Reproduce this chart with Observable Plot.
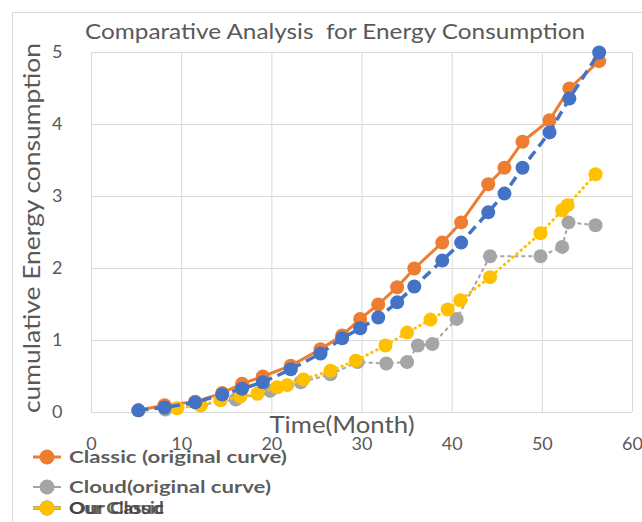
<!DOCTYPE html>
<html>
<head>
<meta charset="utf-8">
<script src="https://cdn.jsdelivr.net/npm/d3@7"></script>
<script src="https://cdn.jsdelivr.net/npm/@observablehq/plot@0.6"></script>
<style>
  html, body { margin: 0; padding: 0; background: #fff; }
  #wrap { position: relative; width: 642px; height: 522px; overflow: hidden; }
  #edge { position: absolute; left: 12px; top: 12px; width: 700px; height: 600px;
          border-left: 1px solid #d9d9d9; border-top: 1px solid #d9d9d9; }
  #chart { position: absolute; left: 0; top: 0; }
</style>
</head>
<body>
<div id="wrap"><div id="edge"></div><div id="chart"></div></div>
<script>
// Axis ticks
const xTicks = [0, 10, 20, 30, 40, 50, 60];
const yTicks = [0, 1, 2, 3, 4, 5];

// Classic (original curve)
const classicMonth = [5.2, 8.1, 11.5, 14.5, 16.7, 19.0, 22.1, 25.4, 27.8, 29.8, 31.8, 33.9, 35.8, 38.9, 41.0, 44.0, 45.8, 47.8, 50.8, 53.0, 56.3];
const classicEnergy = [0.03, 0.1, 0.15, 0.27, 0.4, 0.5, 0.65, 0.88, 1.07, 1.3, 1.5, 1.74, 2.0, 2.36, 2.64, 3.17, 3.4, 3.76, 4.06, 4.5, 4.88];

// Cloud(original curve)
const cloudMonth = [8.2, 12.1, 16.0, 19.8, 23.2, 26.5, 29.5, 32.7, 35.0, 36.2, 37.8, 40.5, 44.2, 49.8, 52.2, 52.9, 55.9];
const cloudEnergy = [0.04, 0.1, 0.18, 0.3, 0.42, 0.53, 0.7, 0.68, 0.7, 0.93, 0.95, 1.3, 2.17, 2.17, 2.3, 2.64, 2.6];

// Our Classic
const ourClassicMonth = [9.5, 12.1, 14.3, 16.5, 18.4, 20.6, 21.7, 23.5, 26.5, 29.3, 32.6, 35.0, 37.6, 39.5, 40.9, 44.2, 49.8, 52.2, 52.8, 55.9];
const ourClassicEnergy = [0.06, 0.1, 0.17, 0.22, 0.26, 0.35, 0.38, 0.46, 0.58, 0.72, 0.93, 1.11, 1.29, 1.43, 1.56, 1.88, 2.49, 2.81, 2.88, 3.31];

// Our Cloud
const ourCloudMonth = [5.2, 8.1, 11.5, 14.5, 16.7, 19.0, 22.1, 25.4, 27.8, 29.8, 31.8, 33.9, 35.8, 38.9, 41.0, 44.0, 45.8, 47.8, 50.8, 53.0, 56.3];
const ourCloudEnergy = [0.03, 0.07, 0.14, 0.25, 0.33, 0.42, 0.6, 0.82, 1.03, 1.17, 1.32, 1.53, 1.75, 2.11, 2.36, 2.78, 3.04, 3.4, 3.89, 4.36, 5.0];

const series = [
  {name: "Classic (original curve)", color: "#ed7d31", width: 3, dash: null, cap: "round", month: classicMonth, energy: classicEnergy},
  {name: "Cloud(original curve)", color: "#a5a5a5", width: 2, dash: "4,3", cap: "butt", month: cloudMonth, energy: cloudEnergy},
  {name: "Our Cloud", color: "#4472c4", width: 3.5, dash: "10,6", cap: "butt", month: ourCloudMonth, energy: ourCloudEnergy},
  {name: "Our Classic", color: "#ffc000", width: 3, dash: "0.5,5", cap: "round", month: ourClassicMonth, energy: ourClassicEnergy}
];

const rows = s => s.month.map((m, i) => ({month: m, energy: s.energy[i]}));

// Drawing order: orange, gray, yellow, blue on top
const drawOrder = [series[0], series[1], series[3], series[2]];

const marks = [
  Plot.gridX(xTicks, {stroke: "#d9d9d9", strokeOpacity: 1}),
  Plot.gridY(yTicks, {stroke: "#d9d9d9", strokeOpacity: 1}),
  Plot.axisX(xTicks, {tickSize: 0, tickPadding: 25, label: null, fontSize: 18, fill: "#595959", tickFormat: "d"}),
  Plot.axisY(yTicks, {tickSize: 0, tickPadding: 29, label: null, fontSize: 18, fill: "#595959", tickFormat: "d"})
];
for (const s of drawOrder) {
  const d = rows(s);
  marks.push(Plot.line(d, {x: "month", y: "energy", stroke: s.color, strokeWidth: s.width,
    strokeDasharray: s.dash, strokeLinecap: s.cap}));
  marks.push(Plot.dot(d, {x: "month", y: "energy", r: 7, fill: s.color, stroke: "none"}));
}

const chart = Plot.plot({
  width: 642, height: 522,
  marginTop: 52, marginLeft: 91, marginRight: 10, marginBottom: 110,
  x: {domain: [0, 60]},
  y: {domain: [0, 5]},
  style: {fontFamily: "Lato, 'Open Sans', sans-serif", color: "#595959", background: "transparent", overflow: "visible"},
  marks
});
document.getElementById("chart").appendChild(chart);

const svg = d3.select(chart);
const font = "Lato, 'Open Sans', sans-serif";

// Title
svg.append("text").attr("x", 335).attr("y", 39).attr("text-anchor", "middle")
  .attr("font-family", font).attr("font-size", 21).attr("fill", "#595959")
  .attr("xml:space", "preserve")
  .attr("textLength", 500).attr("lengthAdjust", "spacingAndGlyphs")
  .text("Comparative Analysis  for Energy Consumption");

// Axis titles
svg.append("text").attr("transform", "translate(40,228) rotate(-90)").attr("text-anchor", "middle")
  .attr("font-family", font).attr("font-size", 24).attr("fill", "#595959")
  .attr("textLength", 370).attr("lengthAdjust", "spacingAndGlyphs")
  .text("cumulative Energy consumption");
svg.append("text").attr("x", 342).attr("y", 433).attr("text-anchor", "middle")
  .attr("font-family", font).attr("font-size", 23).attr("fill", "#595959")
  .attr("textLength", 145).attr("lengthAdjust", "spacingAndGlyphs")
  .text("Time(Month)");

// Legend (Our Cloud sits beneath Our Classic)
const legendRows = [
  {s: series[0], y: 457, w: 218},
  {s: series[1], y: 487, w: 202},
  {s: series[2], y: 508, w: 95},
  {s: series[3], y: 508, w: 95}
];
const lg = svg.append("g").attr("text-anchor", "start");
for (const {s, y, w} of legendRows) {
  lg.append("line").attr("x1", 33).attr("x2", 61).attr("y1", y).attr("y2", y)
    .attr("stroke", s.color).attr("stroke-width", s.width);
  lg.append("circle").attr("cx", 47).attr("cy", y).attr("r", 7.5).attr("fill", s.color);
  lg.append("text").attr("x", 69).attr("y", y).attr("dy", "0.35em")
    .attr("text-anchor", "start")
    .attr("font-family", font).attr("font-size", 17).attr("font-weight", "bold").attr("fill", "#404040")
    .attr("fill-opacity", 0.85)
    .attr("textLength", w).attr("lengthAdjust", "spacingAndGlyphs")
    .text(s.name);
}
</script>
</body>
</html>
